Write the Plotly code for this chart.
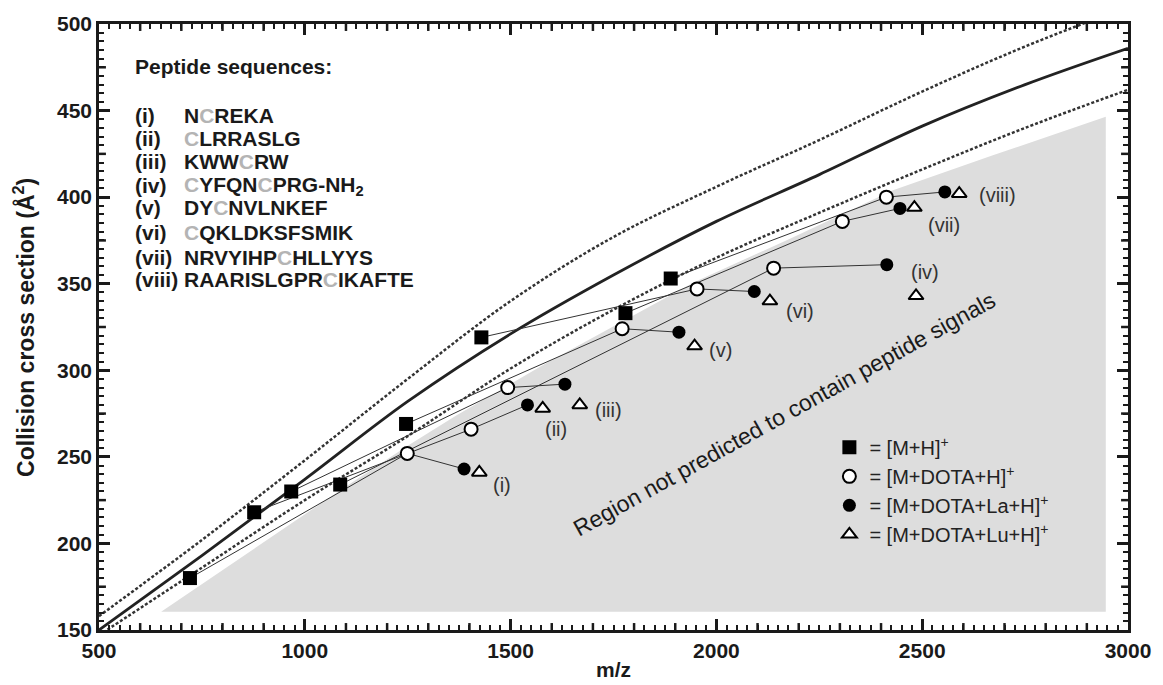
import plotly.graph_objects as go

# ---------------- data ----------------
peptide_ids = ["(i)", "(ii)", "(iii)", "(iv)", "(v)", "(vi)", "(vii)", "(viii)"]
sequences = [
    "N<span style='color:#b4b4b4'>C</span>REKA",
    "<span style='color:#b4b4b4'>C</span>LRRASLG",
    "KWW<span style='color:#b4b4b4'>C</span>RW",
    "<span style='color:#b4b4b4'>C</span>YFQN<span style='color:#b4b4b4'>C</span>PRG-NH<sub>2</sub>",
    "DY<span style='color:#b4b4b4'>C</span>NVLNKEF",
    "<span style='color:#b4b4b4'>C</span>QKLDKSFSMIK",
    "NRVYIHP<span style='color:#b4b4b4'>C</span>HLLYYS",
    "RAARISLGPR<span style='color:#b4b4b4'>C</span>IKAFTE",
]

mh_x = [721, 877, 967, 1086, 1246, 1429, 1779, 1889]
mh_y = [180, 218, 230, 234, 269, 319, 333, 353]
dota_x = [1249, 1404, 1493, 2139, 1771, 1953, 2306, 2413]
dota_y = [252, 266, 290, 359, 324, 347, 386, 400]
la_x = [1387, 1541, 1632, 2414, 1909, 2092, 2446, 2555]
la_y = [243, 280, 292, 361, 322, 345.5, 393.5, 403]
lu_x = [1424, 1578, 1668, 2485, 1947, 2130, 2481, 2590]
lu_y = [241, 278, 280, 343, 314, 340, 394, 402]

label_x = [1478, 1610, 1738, 2507, 2011, 2204, 2553, 2684]
label_y = [234, 266, 277, 357, 312, 334, 384, 401]

curve_x = [500, 750, 1000, 1250, 1500, 1750, 2000, 2250, 2500, 2750, 3000]
upper_y = [158, 202, 248, 295, 340, 377, 406, 433, 461, 487, 510]
trend_y = [150, 193, 237, 282, 321, 355, 386, 413, 441, 465, 486]
lower_y = [147, 186, 225, 262, 301, 335, 365, 391, 416, 440, 462]

region_x = [651, 1088, 1247, 1369, 1586, 1947, 2188, 2429, 2670, 2946, 2946, 651]
region_y = [160.5, 231, 256, 274, 304, 351, 377, 404, 424, 446.5, 160.5, 160.5]

x_major = [500, 1000, 1500, 2000, 2500, 3000]
y_major = [150, 200, 250, 300, 350, 400, 450, 500]
x_medium = [v for v in range(600, 3000, 100) if v % 500 != 0]
y_medium = list(range(175, 500, 50))

FONT = "Liberation Sans"
INK = "#1a1a1a"

fig = go.Figure()

fig.add_trace(go.Scatter(x=region_x, y=region_y, mode="lines", fill="toself",
                         fillcolor="#dddddd", line=dict(width=0, color="#dddddd"),
                         showlegend=False, hoverinfo="skip"))

fig.add_trace(go.Scatter(x=curve_x, y=upper_y, mode="lines", line_shape="spline",
                         line=dict(color="#333333", width=2.5, dash="3px,2px"),
                         showlegend=False, hoverinfo="skip"))
fig.add_trace(go.Scatter(x=curve_x, y=trend_y, mode="lines", line_shape="spline",
                         line=dict(color="#222222", width=2.8),
                         showlegend=False, hoverinfo="skip"))
fig.add_trace(go.Scatter(x=curve_x, y=lower_y, mode="lines", line_shape="spline",
                         line=dict(color="#333333", width=2.5, dash="3px,2px"),
                         showlegend=False, hoverinfo="skip"))

for i in range(len(mh_x)):
    fig.add_trace(go.Scatter(x=[mh_x[i], dota_x[i], la_x[i]],
                             y=[mh_y[i], dota_y[i], la_y[i]],
                             mode="lines", line=dict(color="#333333", width=1),
                             showlegend=False, hoverinfo="skip"))

fig.add_trace(go.Scatter(x=mh_x, y=mh_y, mode="markers", name="= [M+H]<sup>+</sup>",
                         marker=dict(symbol="square", size=14, color="black",
                                     line=dict(color="black", width=0))))
fig.add_trace(go.Scatter(x=dota_x, y=dota_y, mode="markers", name="= [M+DOTA+H]<sup>+</sup>",
                         marker=dict(symbol="circle", size=13, color="white",
                                     line=dict(color="black", width=2))))
fig.add_trace(go.Scatter(x=la_x, y=la_y, mode="markers", name="= [M+DOTA+La+H]<sup>+</sup>",
                         marker=dict(symbol="circle", size=13, color="black",
                                     line=dict(color="black", width=0))))
fig.add_trace(go.Scatter(x=lu_x, y=lu_y, mode="markers", name="= [M+DOTA+Lu+H]<sup>+</sup>",
                         marker=dict(symbol="triangle-up", size=13, color="white",
                                     line=dict(color="black", width=2))))

annotations = []
for i in range(len(peptide_ids)):
    annotations.append(dict(x=label_x[i], y=label_y[i], text=peptide_ids[i], showarrow=False,
                            xanchor="center", yanchor="middle",
                            font=dict(family=FONT, size=20, color="#333333")))

annotations.append(dict(x=582, y=475.5, text="Peptide sequences:", showarrow=False,
                        xanchor="left", yanchor="middle",
                        font=dict(family=FONT, size=21, color=INK, weight="bold")))
row_y = [447.2, 434.0, 420.3, 406.5, 393.9, 379.5, 365.2, 352.6]
for i in range(len(peptide_ids)):
    annotations.append(dict(x=582, y=row_y[i], text=peptide_ids[i], showarrow=False,
                            xanchor="left", yanchor="middle",
                            font=dict(family=FONT, size=21, color=INK, weight="bold")))
    annotations.append(dict(x=702, y=row_y[i], text=sequences[i], showarrow=False,
                            xanchor="left", yanchor="middle",
                            font=dict(family=FONT, size=21, color=INK, weight="bold")))

annotations.append(dict(x=2165, y=275, text="Region not predicted to contain peptide signals",
                        showarrow=False, textangle=-29, xanchor="center", yanchor="middle",
                        font=dict(family=FONT, size=23, color=INK)))

annotations.append(dict(xref="paper", yref="paper", x=0.5, y=-0.066, text="m/z",
                        showarrow=False, xanchor="center", yanchor="middle",
                        font=dict(family=FONT, size=21, color=INK, weight="bold")))
annotations.append(dict(xref="paper", yref="paper", x=-0.073, y=0.5,
                        text="Collision cross section (Å<sup>2</sup>)",
                        showarrow=False, textangle=-90, xanchor="center", yanchor="middle",
                        font=dict(family=FONT, size=23, color=INK, weight="bold")))

# medium tick marks, inside on all four sides
shapes = []
for v in x_medium:
    for y0, y1 in ((0, 7 / 610), (1, 1 - 7 / 610)):
        shapes.append(dict(type="line", xref="x", yref="paper", x0=v, x1=v, y0=y0, y1=y1,
                           line=dict(color=INK, width=2.5)))
for v in y_medium:
    for x0, x1 in ((0, 7 / 1039), (1, 1 - 7 / 1039)):
        shapes.append(dict(type="line", xref="paper", yref="y", x0=x0, x1=x1, y0=v, y1=v,
                           line=dict(color=INK, width=2.5)))

axis_common = dict(showgrid=False, zeroline=False, showline=True, linecolor=INK,
                   linewidth=2.5, mirror="ticks", ticks="inside", tickcolor=INK)

fig.update_layout(
    width=1163, height=685,
    margin=dict(l=99, r=25, t=20, b=55),
    paper_bgcolor="white", plot_bgcolor="white",
    font=dict(family=FONT, color=INK),
    xaxis=dict(range=[500, 3000], tickvals=x_major, ticklen=11, tickwidth=3,
               tickfont=dict(family=FONT, size=21, color=INK, weight="bold"),
               minor=dict(dtick=25, tick0=500, ticklen=5, tickwidth=2, tickcolor=INK, ticks="inside"),
               **axis_common),
    yaxis=dict(range=[150, 500], tickvals=y_major, ticklen=11, tickwidth=3,
               tickfont=dict(family=FONT, size=21, color=INK, weight="bold"),
               minor=dict(dtick=5, tick0=150, ticklen=5, tickwidth=2, tickcolor=INK, ticks="inside"),
               **axis_common),
    legend=dict(x=0.7098, y=0.3336, xanchor="left", yanchor="top", bgcolor="rgba(0,0,0,0)",
                font=dict(family=FONT, size=20, color="#222222"), itemwidth=30, tracegroupgap=0),
    annotations=annotations,
    shapes=shapes,
)

fig.write_html("out.html")
